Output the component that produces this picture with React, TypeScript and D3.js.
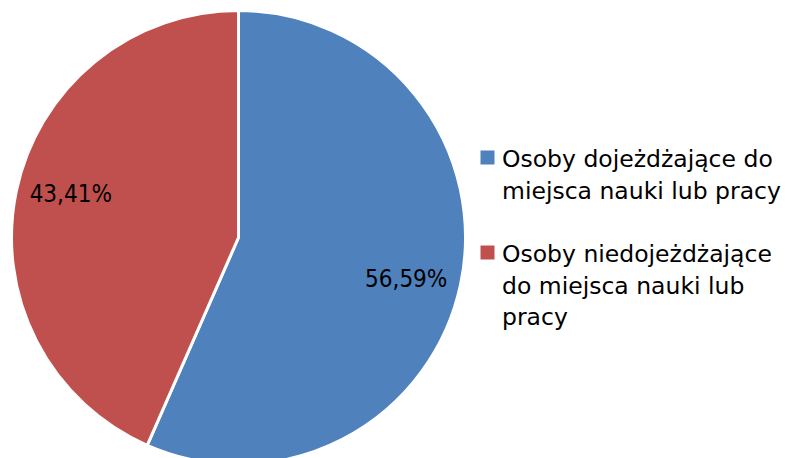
import React from "react";
import * as d3 from "d3";

const categories = [
  "Osoby dojeżdżające do miejsca nauki lub pracy",
  "Osoby niedojeżdżające do miejsca nauki lub pracy",
];
const values = [56.59, 43.41];
const valueLabels = ["56,59%", "43,41%"];
const legendLines = [
  ["Osoby dojeżdżające do", "miejsca nauki lub pracy"],
  ["Osoby niedojeżdżające", "do miejsca nauki lub", "pracy"],
];
const colors = ["#4F81BD", "#C0504D"];
const labelNudgeY = [6, -8];

const W = 785;
const H = 458;
const cx = 238.5;
const cy = 237.5;
const R = 227;
const FONT = "'DejaVu Sans', Verdana, sans-serif";
const LABEL_FONT = "'DejaVu Sans Condensed', 'DejaVu Sans', sans-serif";

export default function App() {
  const pie = d3.pie<number>().sort(null).value((d) => d);
  const arcs = pie(values);
  const arc = d3.arc<d3.PieArcDatum<number>>().innerRadius(0).outerRadius(R);
  const labelArc = d3.arc<d3.PieArcDatum<number>>().innerRadius(R * 0.755).outerRadius(R * 0.755);
  return (
    <svg width={W} height={H} style={{ position: "absolute", left: 0, top: 0 }}>
      <rect width={W} height={H} fill="#fff" />
      <g transform={`translate(${cx},${cy})`}>
        {arcs.map((a, i) => (
          <path key={i} d={arc(a) || ""} fill={colors[i]} stroke="#fff" strokeWidth={3} strokeLinejoin="round" />
        ))}
        {arcs.map((a, i) => {
          const [x, y] = labelArc.centroid(a);
          return (
            <text key={i} x={x} y={y + labelNudgeY[i]} textAnchor="middle" dominantBaseline="central" fontFamily={LABEL_FONT} fontSize={24} fill="#000">
              {valueLabels[i]}
            </text>
          );
        })}
      </g>
      {legendLines.map((lines, i) => {
        const top = i === 0 ? 150 : 245;
        return (
          <g key={i}>
            <rect x={480.5} y={top + 0.5} width={14} height={14} fill={colors[i]} />
            {lines.map((l, j) => (
              <text key={j} x={502} y={top + 17 + j * 31.5} fontFamily={FONT} fontSize={23.5} fill="#000">
                {l}
              </text>
            ))}
          </g>
        );
      })}
    </svg>
  );
}
